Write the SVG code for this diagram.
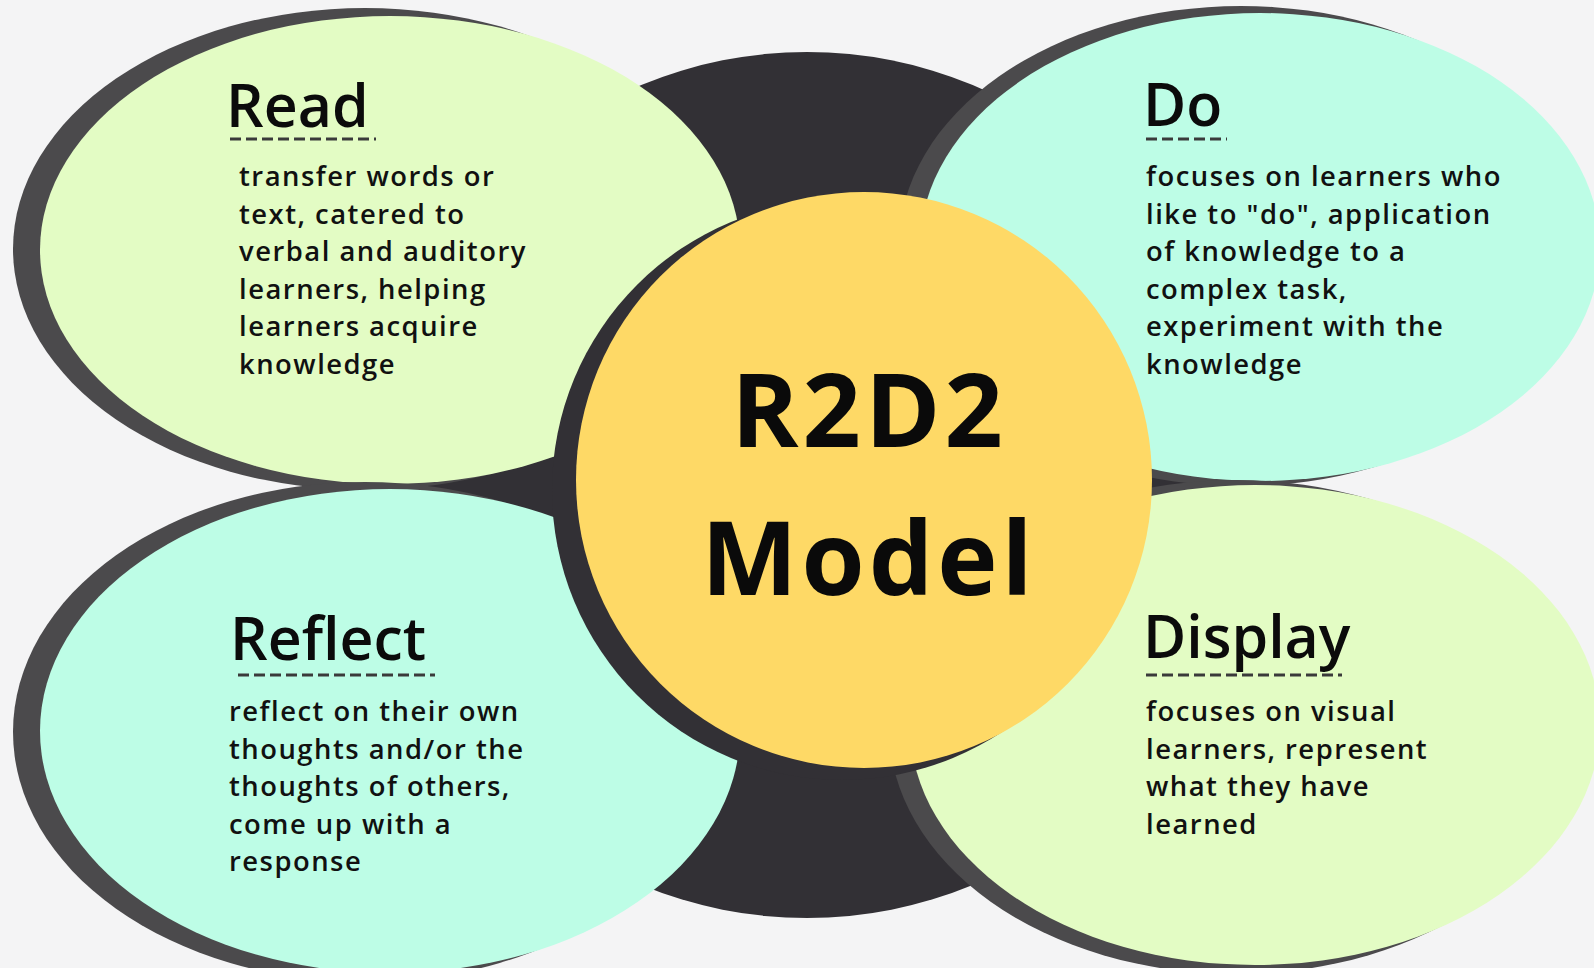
<svg xmlns="http://www.w3.org/2000/svg" width="1594" height="968" viewBox="0 0 1594 968">
  <style>
    .shadow { fill: #4b4a4c; }
    .green { fill: #e3fcc4; }
    .mint { fill: #bdfde6; }
    .dark { fill: #323035; }
    .title { font-family: "Open Sans", "Liberation Sans", sans-serif; font-weight: 600; font-size: 59px; fill: #0b0b0b; }
    .body { font-family: "Open Sans", "Liberation Sans", sans-serif; font-weight: 600; font-size: 27.4px; letter-spacing: 1.5px; fill: #111111; }
    .center { font-family: "Open Sans", "Liberation Sans", sans-serif; font-weight: 700; font-size: 102px; letter-spacing: 4px; fill: #0a0a0a; text-anchor: middle; }
    .dash { stroke: #3a3a3a; stroke-width: 3; stroke-dasharray: 11 5; fill: none; }
  </style>
  <rect x="0" y="0" width="1594" height="968" fill="#f4f4f5"/>

  <g id="backdrop">
    <circle class="dark" cx="807" cy="485" r="433"/>
  </g>

  <g id="node-read">
    <ellipse class="shadow" cx="365" cy="249" rx="352" ry="241"/>
    <ellipse class="green" cx="390" cy="250" rx="350" ry="234"/>
    <text class="title" x="226" y="127">Read</text>
    <line class="dash" x1="230" y1="139" x2="376" y2="139"/>
    <text class="body">
      <tspan x="239" y="186">transfer words or</tspan>
      <tspan x="239" y="223.6">text, catered to</tspan>
      <tspan x="239" y="261.2">verbal and auditory</tspan>
      <tspan x="239" y="298.8">learners, helping</tspan>
      <tspan x="239" y="336.4">learners acquire</tspan>
      <tspan x="239" y="374">knowledge</tspan>
    </text>
  </g>

  <g id="node-do">
    <ellipse class="shadow" cx="1241" cy="246" rx="342" ry="240"/>
    <ellipse class="mint" cx="1260" cy="247" rx="340" ry="234"/>
    <text class="title" x="1143" y="126">Do</text>
    <line class="dash" x1="1146" y1="139" x2="1227" y2="139"/>
    <text class="body">
      <tspan x="1146" y="186">focuses on learners who</tspan>
      <tspan x="1146" y="223.6">like to "do", application</tspan>
      <tspan x="1146" y="261.2">of knowledge to a</tspan>
      <tspan x="1146" y="298.8">complex task,</tspan>
      <tspan x="1146" y="336.4">experiment with the</tspan>
      <tspan x="1146" y="374">knowledge</tspan>
    </text>
  </g>

  <g id="node-reflect">
    <ellipse class="shadow" cx="365" cy="732" rx="352" ry="250"/>
    <ellipse class="mint" cx="390" cy="731" rx="350" ry="242"/>
    <text class="title" x="230" y="660">Reflect</text>
    <line class="dash" x1="238" y1="675" x2="435" y2="675"/>
    <text class="body">
      <tspan x="229" y="721">reflect on their own</tspan>
      <tspan x="229" y="758.6">thoughts and/or the</tspan>
      <tspan x="229" y="796.2">thoughts of others,</tspan>
      <tspan x="229" y="833.8">come up with a</tspan>
      <tspan x="229" y="871.4">response</tspan>
    </text>
  </g>

  <g id="node-display">
    <ellipse class="shadow" cx="1236" cy="727" rx="347" ry="247"/>
    <ellipse class="green" cx="1255" cy="725" rx="345" ry="240"/>
    <text class="title" x="1143" y="658">Display</text>
    <line class="dash" x1="1146" y1="675" x2="1342" y2="675"/>
    <text class="body">
      <tspan x="1146" y="721">focuses on visual</tspan>
      <tspan x="1146" y="758.6">learners, represent</tspan>
      <tspan x="1146" y="796.2">what they have</tspan>
      <tspan x="1146" y="833.8">learned</tspan>
    </text>
  </g>

  <g id="node-center">
    <circle class="dark" cx="842" cy="490" r="290"/>
    <circle cx="864" cy="480" r="288" fill="#fed966"/>
    <text class="center" x="869" y="447">R2D2</text>
    <text class="center" x="869" y="595">Model</text>
  </g>
</svg>
